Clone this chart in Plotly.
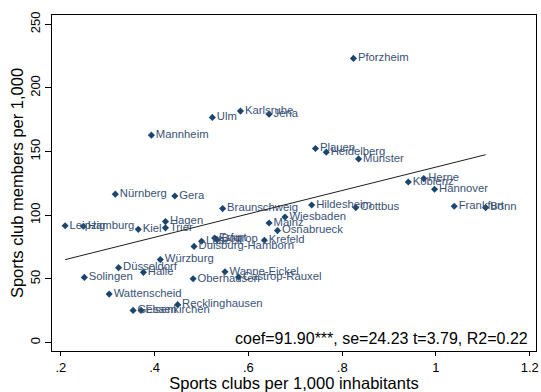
import plotly.graph_objects as go

# City-level data: sports clubs per 1,000 inhabitants vs. club members per 1,000
cities = [
    "Pforzheim", "Karlsruhe", "Jena", "Ulm", "Mannheim", "Plauen", "Heidelberg",
    "Münster", "Koblenz", "Herne", "Hannover", "Frankfurt", "Bonn", "Hildesheim",
    "Cottbus", "Braunschweig", "Wiesbaden", "Mainz", "Osnabrueck", "Krefeld",
    "Bottrop", "Erfurt", "Lübeck", "Duisburg-Hamborn", "Wanne-Eickel",
    "Castrop-Rauxel", "Oberhausen", "Würzburg", "Düsseldorf", "Halle", "Solingen",
    "Wattenscheid", "Recklinghausen", "Gelsenkirchen", "Essen", "Leipzig",
    "Hamburg", "Kiel", "Trier", "Hagen", "Nürnberg", "Gera",
]
clubs_per_1000 = [
    0.824, 0.583, 0.644, 0.523, 0.393, 0.743, 0.766,
    0.835, 0.941, 0.974, 0.997, 1.039, 1.106, 0.735,
    0.829, 0.545, 0.678, 0.644, 0.662, 0.634,
    0.533, 0.528, 0.500, 0.484, 0.550,
    0.579, 0.482, 0.412, 0.323, 0.376, 0.250,
    0.303, 0.449, 0.354, 0.371, 0.209,
    0.248, 0.365, 0.423, 0.423, 0.316, 0.443,
]
members_per_1000 = [
    223.2, 181.8, 179.4, 176.8, 162.9, 152.4, 149.5,
    144.2, 126.1, 128.8, 120.4, 107.0, 106.0, 108.0,
    106.0, 105.2, 98.6, 93.9, 87.9, 80.3,
    80.8, 82.1, 79.5, 75.5, 55.6,
    51.4, 50.1, 65.1, 58.8, 55.1, 51.1,
    38.0, 29.7, 25.2, 25.2, 91.7,
    91.3, 88.9, 90.1, 95.0, 116.5, 115.1,
]

# Linear fit reported in the corner note
coef = 91.90
intercept = 45.9
se = 24.23
tstat = 3.79
r2 = 0.22

x_ticks = [0.2, 0.4, 0.6, 0.8, 1.0, 1.2]
x_tick_text = [".2", ".4", ".6", ".8", "1", "1.2"]
y_ticks = [0, 50, 100, 150, 200, 250]

FONT = "Liberation Sans, Arial, sans-serif"
NAVY = "#1a476f"

fit_x = [min(clubs_per_1000), max(clubs_per_1000)]
fit_y = [intercept + coef * v for v in fit_x]

fig = go.Figure()
fig.add_trace(go.Scatter(
    x=clubs_per_1000, y=members_per_1000, text=cities,
    mode="markers+text", textposition="middle right",
    marker=dict(symbol="diamond", size=5.5, color=NAVY),
    textfont=dict(family=FONT, size=11.3, color="#3a5276"),
    showlegend=False, cliponaxis=False,
))
fig.add_trace(go.Scatter(
    x=fit_x, y=fit_y, mode="lines",
    line=dict(color="#1e1e1e", width=1),
    showlegend=False,
))

fig.add_annotation(
    text=f"coef={coef:.2f}***, se={se:.2f} t={tstat:.2f}, R2={r2:.2f}",
    xref="paper", yref="paper", x=0.988, y=0.036,
    xanchor="right", yanchor="middle", showarrow=False,
    font=dict(family=FONT, size=16, color="black"),
)

fig.update_xaxes(
    range=[0.181, 1.2134], tickvals=x_ticks, ticktext=x_tick_text,
    ticklabeloverflow="allow",
    showgrid=False, zeroline=False,
    showline=True, mirror=True, linecolor="black", linewidth=1,
    ticks="outside", ticklen=4, tickcolor="black",
    tickfont=dict(family=FONT, size=13, color="black"),
    title=dict(text="Sports clubs per 1,000 inhabitants",
               font=dict(family=FONT, size=16.5, color="black"), standoff=2),
)
fig.update_yaxes(
    range=[-6.7, 257.3], tickvals=y_ticks, tickangle=-90,
    showgrid=False, zeroline=False,
    showline=True, mirror=True, linecolor="black", linewidth=1,
    ticks="outside", ticklen=6, tickcolor="black",
    tickfont=dict(family=FONT, size=13, color="black"),
    title=dict(text="Sports club members per 1,000",
               font=dict(family=FONT, size=16.5, color="black"), standoff=0),
)

fig.update_layout(
    width=541, height=392,
    margin=dict(l=52, r=2, t=15, b=41),
    paper_bgcolor="white", plot_bgcolor="white",
)

fig.write_html("out.html")
